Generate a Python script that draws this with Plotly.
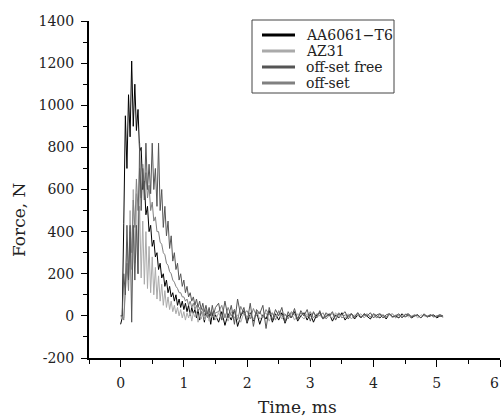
import plotly.graph_objects as go

# ---------------- data ----------------
# head: t = 0 ... 1.5 ms, step 0.025 ms ; tail: t = 1.55 ... 5.1 ms, step 0.05 ms
HEAD_STEP = 0.025
TAIL_STEP = 0.05

aa6061_head = [-40, -10, 440, 950, 700, 1050, 850, 1210, 900, 1100,
               880, 980, 780, 800, 600, 640, 480, 520, 400, 430,
               330, 360, 280, 300, 220, 250, 180, 200, 140, 170,
               110, 140, 90, 110, 70, 100, 50, 80, 40, 70,
               30, 60, 20, 50, 0, 40, 10, 30, -10, 30,
               -20, 20, 10, -30, 20, -10, 10, -40, 15, -20,
               5]
aa6061_tail = [-30, 20, -45, 10, -20, 30, -50, 0, 25, -35,
               15, -25, 20, -40, 5, -15, 25, -30, 10, -20,
               15, -35, 5, -10, 20, -25, 0, 15, -20, 10,
               -30, 5, 15, -15, 0, 10, -25, 5, -10, 15,
               -20, 0, 10, -15, 5, -10, 10, -5, -15, 10,
               0, -10, 5, -15, 10, -5, 0, -10, 10, -5,
               5, -10, 0, 5, -10, 5, -5, 0, 5, -10,
               0, -5]

az31_head = [-10, -10, -10, 150, 350, 180, 500, 220, 600, 250,
             580, 200, 520, 180, 450, 150, 400, 130, 330, 110,
             280, 100, 230, 80, 190, 70, 150, 50, 120, 40,
             90, 30, 70, 20, 50, 10, 40, 0, 30, -10,
             20, -20, 15, -10, 20, -25, 15, -5, 20, -30,
             10, -15, 15, -20, 5, 10, -25, 15, -10, 5,
             -20]
az31_tail = [15, -20, 10, -25, 20, -10, 5, -30, 15, -5,
             10, -20, 25, -15, 0, 15, -25, 10, -5, 20,
             -15, 5, -10, 15, -20, 10, 0, -15, 10, -5,
             15, -10, 5, -15, 10, 0, -10, 15, -5, 5,
             -10, 10, -15, 5, 0, 10, -10, 5, -5, 10,
             -10, 0, 5, -5, 10, -10, 5, 0, -5, 10,
             -5, 0, 5, -10, 5, 0, -5, 5, -5, 0,
             5, -5]

offset_free_head = [0, 0, 200, 100, 430, 170, 430, -30, 430, 170,
                    430, 200, 820, 500, 700, 550, 820, 600, 720, 580,
                    820, 600, 700, 520, 820, 500, 600, 420, 520, 380,
                    450, 320, 380, 260, 300, 220, 250, 170, 200, 140,
                    170, 110, 140, 90, 110, 70, 90, 50, 80, 40,
                    70, 30, 60, 20, 50, 10, 40, 0, 50, 10,
                    40]
offset_free_tail = [60, -20, 70, -10, 50, -40, 80, 0, 40, -30,
                    60, -50, 30, 10, 50, -60, 40, -20, 30, 0,
                    40, -30, 20, -10, 35, -20, 25, 0, 30, -25,
                    20, -10, 25, -15, 15, 0, 20, -20, 10, 5,
                    20, -15, 10, -5, 15, -10, 10, 0, 15, -10,
                    5, 10, -10, 5, 10, -5, 0, 10, -10, 5,
                    10, -5, 0, 5, -10, 10, -5, 5, 0, -5,
                    5, 0]

offset_head = [0, 0, -20, 150, 250, 120, 400, 300, 550, 420,
               650, 500, 700, 560, 720, 600, 680, 560, 620, 500,
               540, 450, 470, 400, 400, 350, 340, 300, 290, 250,
               240, 210, 200, 170, 160, 140, 130, 110, 110, 90,
               90, 70, 80, 50, 70, 40, 60, 30, 50, 20,
               40, 10, 35, 0, 30, -10, 25, 5, 20, -5,
               15]
offset_tail = [20, 50, -10, 40, 0, 30, -20, 45, 10, 25,
               -15, 35, 0, 20, -10, 30, 5, 15, -20, 25,
               0, 10, -15, 20, 5, -10, 15, 0, -5, 20,
               -10, 10, 0, 15, -15, 5, 10, -5, 15, -10,
               5, 0, 10, -10, 15, -5, 0, 10, -5, 5,
               -10, 10, 0, -5, 5, 10, -10, 5, 0, -5,
               10, -5, 5, 0, -10, 5, 0, 5, -5, 0,
               5, -5]

series_names = ["AA6061\u2212T6", "AZ31", "off-set free", "off-set"]
series_colors = ["#000000", "#aaaaaa", "#555555", "#808080"]
x_ticks = [0, 1, 2, 3, 4, 5, 6]
x_tick_labels = ["0", "1", "2", "3", "4", "5", "6"]
y_ticks = [-200, 0, 200, 400, 600, 800, 1000, 1200, 1400]
y_tick_labels = ["-200", "0", "200", "400", "600", "800", "1000", "1200", "1400"]


def times(head, tail):
    t_head = [round(HEAD_STEP * i, 4) for i in range(len(head))]
    end = t_head[-1]
    t_tail = [round(end + TAIL_STEP * (i + 1), 4) for i in range(len(tail))]
    return t_head + t_tail


series = [
    (aa6061_head, aa6061_tail),
    (az31_head, az31_tail),
    (offset_free_head, offset_free_tail),
    (offset_head, offset_tail),
]

FONT = "DejaVu Serif"
TXT = "#222222"

# plot-area geometry in pixels (for the paper-coordinate legend box)
W, H = 502, 419
ML, MR, MT, MB = 89, 2, 21, 61
PW, PH = W - ML - MR, H - MT - MB


def px_x(px):
    return (px - ML) / PW


def px_y(py):
    return (H - MB - py) / PH


fig = go.Figure()

draw_order = [0, 1, 3, 2]
for k in draw_order:
    h, tl = series[k]
    fig.add_trace(go.Scatter(
        x=times(h, tl), y=h + tl, mode="lines", name=series_names[k],
        line=dict(color=series_colors[k], width=1),
        showlegend=False, hoverinfo="skip"))

# legend box drawn in paper coordinates
shapes = [dict(type="rect", xref="paper", yref="paper",
               x0=px_x(252), x1=px_x(394), y0=px_y(93), y1=px_y(20),
               line=dict(color="#444444", width=1), fillcolor="white", layer="above")]
annotations = []
legend_rows = [35, 51, 67, 83]
for k in range(4):
    yy = px_y(legend_rows[k])
    shapes.append(dict(type="line", xref="paper", yref="paper",
                       x0=px_x(262), x1=px_x(295), y0=yy, y1=yy,
                       line=dict(color=series_colors[k], width=3), layer="above"))
    annotations.append(dict(text=series_names[k], xref="paper", yref="paper",
                            x=px_x(304), y=yy, xanchor="left", yanchor="middle",
                            showarrow=False,
                            font=dict(family=FONT, size=14, color=TXT)))

# last x tick label: right-aligned so it stays inside the page
axis_tick_texts = x_tick_labels[:-1] + [""]
annotations.append(dict(text=x_tick_labels[-1], xref="paper", yref="paper",
                        x=px_x(501), y=px_y(383), xanchor="right", yanchor="middle",
                        showarrow=False, font=dict(family=FONT, size=14, color=TXT)))

annotations += [
    dict(text="Time, ms", xref="paper", yref="paper",
         x=px_x(297), y=px_y(407),
         xanchor="center", yanchor="middle", showarrow=False,
         font=dict(family=FONT, size=17, color=TXT)),
    dict(text="Force, N", xref="paper", yref="paper",
         x=px_x(19), y=px_y(220),
         xanchor="center", yanchor="middle", showarrow=False, textangle=-90,
         font=dict(family=FONT, size=17, color=TXT)),
]

axis_common = dict(
    showline=True, linecolor="#000000", linewidth=2,
    ticks="outside", tickcolor="#000000", tickwidth=1,
    showgrid=False, zeroline=False, mirror=False, automargin=False,
    tickfont=dict(family=FONT, size=14, color=TXT),
)

fig.update_layout(
    width=W, height=H,
    margin=dict(l=ML, r=MR, t=MT, b=MB),
    paper_bgcolor="white", plot_bgcolor="white",
    font=dict(family=FONT, color=TXT),
    showlegend=False,
    xaxis=dict(
        range=[-0.5, 6], tickvals=x_ticks, ticktext=axis_tick_texts, ticklen=7,
        minor=dict(dtick=0.5, ticklen=4, ticks="outside", tickcolor="#000000"),
        ticklabelstandoff=4,
        **axis_common),
    yaxis=dict(
        range=[-200, 1400], tickvals=y_ticks, ticktext=y_tick_labels, ticklen=6,
        minor=dict(dtick=100, ticklen=4, ticks="outside", tickcolor="#000000"),
        ticklabelstandoff=4,
        **axis_common),
    shapes=shapes,
    annotations=annotations,
)

fig.write_html("out.html", config={"displayModeBar": False},
               post_script="document.body.style.margin='0';document.body.style.overflow='hidden';")
